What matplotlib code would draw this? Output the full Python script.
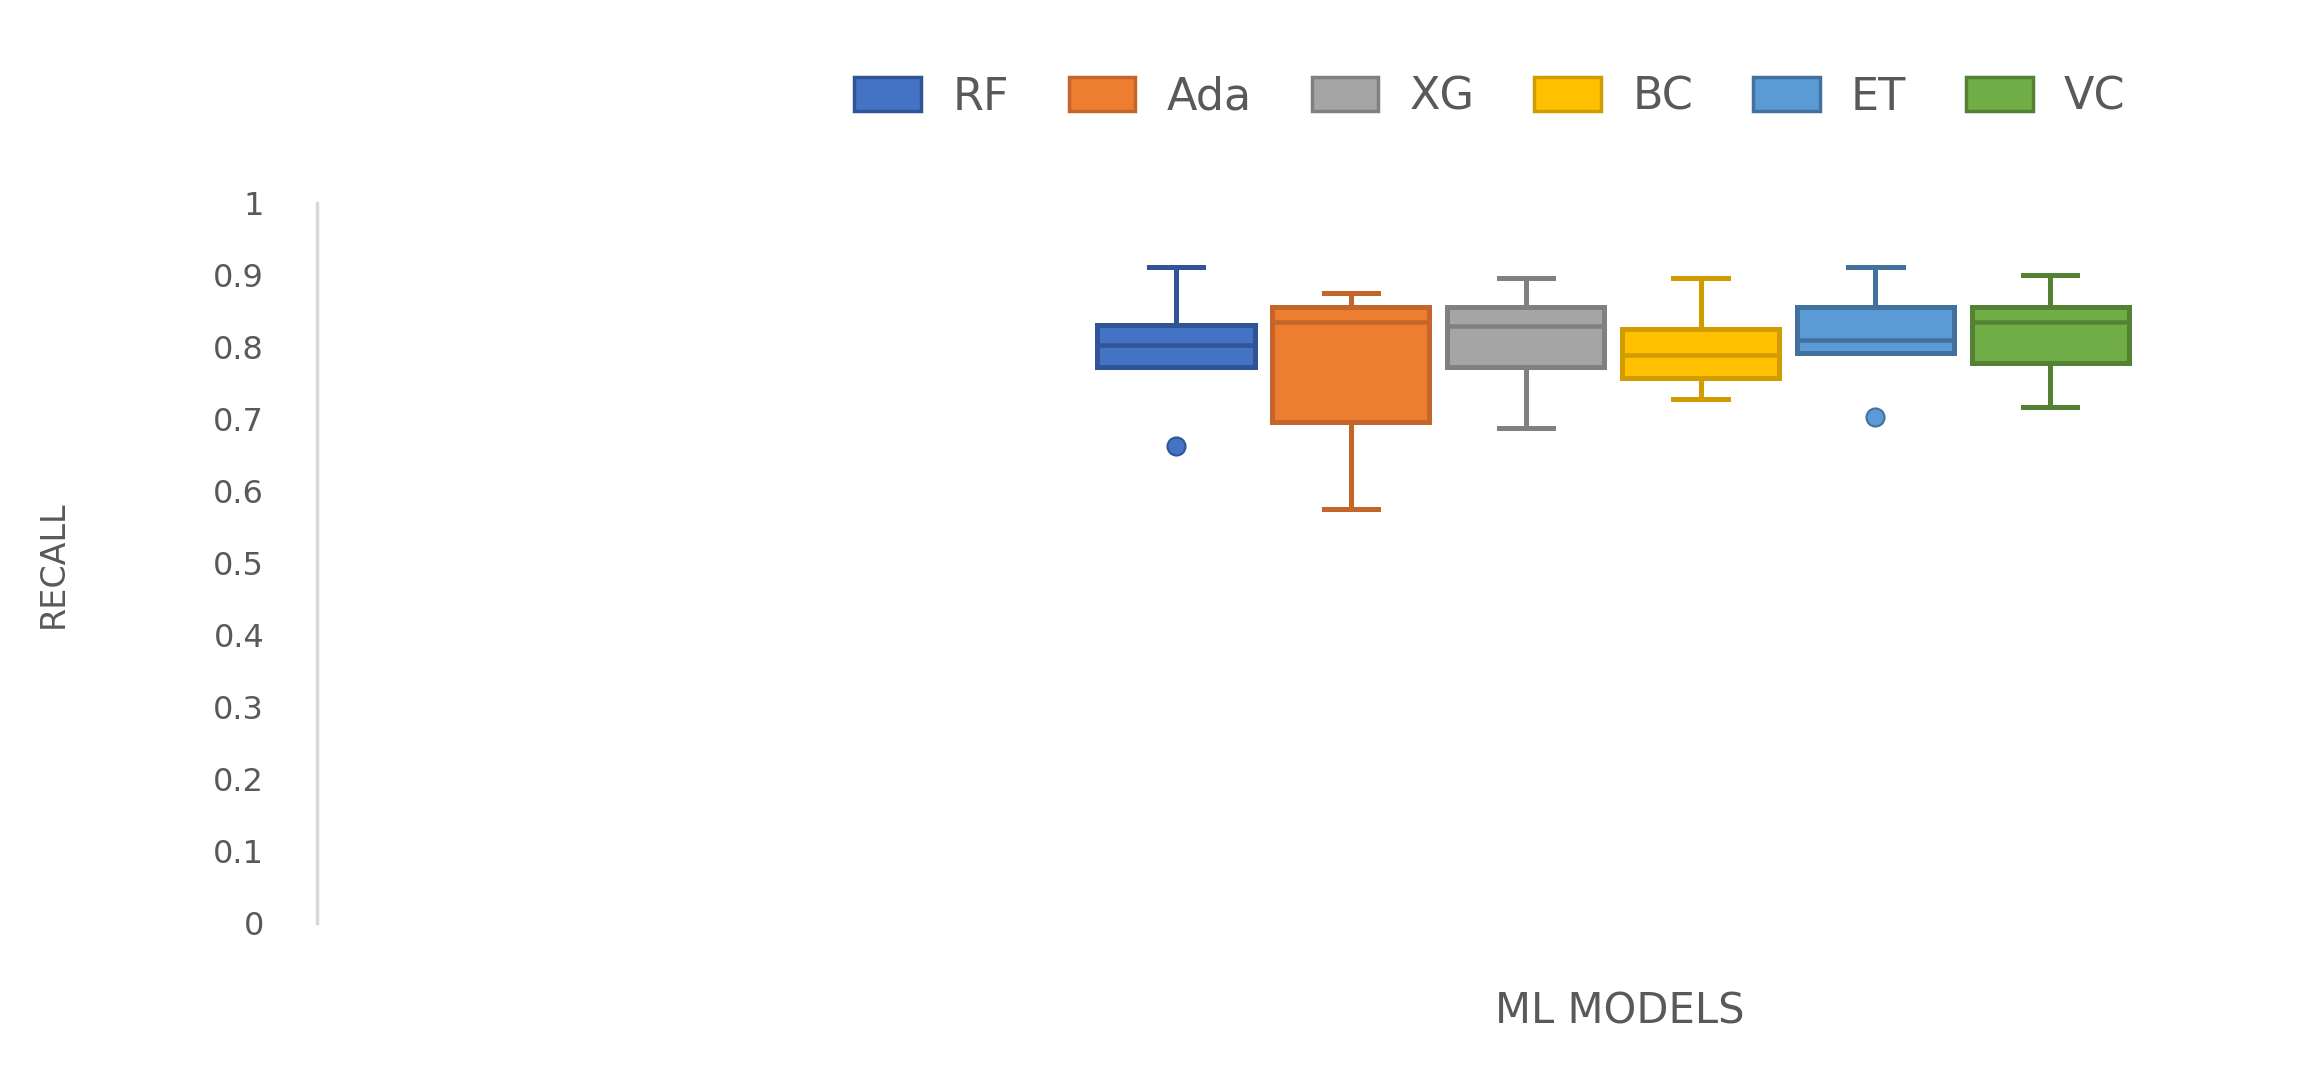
import matplotlib
matplotlib.use('Agg')
import matplotlib.pyplot as plt
from matplotlib.patches import Patch

# ---- data ----
models = ['RF', 'Ada', 'XG', 'BC', 'ET', 'VC']
whisker_low = [0.772, 0.575, 0.687, 0.727, 0.792, 0.717]
q1 = [0.772, 0.696, 0.772, 0.757, 0.792, 0.777]
median = [0.803, 0.834, 0.829, 0.789, 0.809, 0.834]
q3 = [0.831, 0.856, 0.856, 0.825, 0.856, 0.856]
whisker_high = [0.911, 0.875, 0.895, 0.895, 0.911, 0.900]
outliers = [[0.662], [], [], [], [0.702], []]
yticks = [0, 0.1, 0.2, 0.3, 0.4, 0.5, 0.6, 0.7, 0.8, 0.9, 1.0]
ytick_labels = ['0', '0.1', '0.2', '0.3', '0.4', '0.5', '0.6', '0.7', '0.8', '0.9', '1']
x_label = 'ML MODELS'
y_label = 'RECALL'

face_colors = ['#4472C4', '#ED7D31', '#A5A5A5', '#FFC000', '#5B9BD5', '#70AD47']
edge_colors = ['#2F5597', '#C4662A', '#808080', '#D09C00', '#41719C', '#548235']
text_color = '#595959'

fig = plt.figure(figsize=(23.04, 10.78), dpi=100)
ax = fig.add_axes([317 / 2304, 0.1438, 1 - 317 / 2304, 0.668])

n = len(models)
positions = [i - (n - 1) / 2 for i in range(n)]
stats = []
for i, m in enumerate(models):
    stats.append(dict(label=m, whislo=whisker_low[i], q1=q1[i], med=median[i],
                      q3=q3[i], whishi=whisker_high[i], fliers=outliers[i]))

bp = ax.bxp(stats, positions=positions, widths=0.9, patch_artist=True,
            showfliers=True, capwidths=0.31)

lw = 3.6
for i in range(n):
    fc, ec = face_colors[i], edge_colors[i]
    box = bp['boxes'][i]
    box.set_facecolor(fc)
    box.set_edgecolor(ec)
    box.set_linewidth(lw)
    box.set_zorder(3)
    bp['medians'][i].set_color(ec)
    bp['medians'][i].set_linewidth(lw * 0.9)
    bp['medians'][i].set_zorder(4)
    for w in bp['whiskers'][2 * i:2 * i + 2]:
        w.set_color(ec)
        w.set_linewidth(lw)
    for c in bp['caps'][2 * i:2 * i + 2]:
        c.set_color(ec)
        c.set_linewidth(lw)
    fl = bp['fliers'][i]
    fl.set_marker('o')
    fl.set_markerfacecolor(fc)
    fl.set_markeredgecolor(ec)
    fl.set_markersize(13)
    fl.set_markeredgewidth(1.5)

ax.set_ylim(0, 1)
ax.set_xlim(-7.41, 3.95)
ax.set_yticks(yticks)
ax.set_yticklabels(ytick_labels)
ax.set_xticks([])
ax.tick_params(axis='y', length=0, pad=38, labelsize=23, labelcolor=text_color)
for s in ['top', 'right', 'bottom']:
    ax.spines[s].set_visible(False)
ax.spines['left'].set_color('#D9D9D9')
ax.spines['left'].set_linewidth(2.5)

fig.text(53 / 2304, 1 - 564 / 1078, y_label, rotation=90, ha='center', va='center',
         fontsize=24, color=text_color)
fig.text(1620 / 2304, 1 - 1011 / 1078, x_label, ha='center', va='center',
         fontsize=30, color=text_color)

handles = [Patch(facecolor=face_colors[i], edgecolor=edge_colors[i], linewidth=2.5,
                 label=models[i]) for i in range(n)]
fig.legend(handles=handles, loc='center', bbox_to_anchor=(1490 / 2304, 1 - 97 / 1078),
           ncol=n, frameon=False, fontsize=32, handlelength=1.5, handleheight=0.8,
           handletextpad=0.7, columnspacing=1.35, labelcolor=text_color)

fig.savefig('out.png', dpi=100)
